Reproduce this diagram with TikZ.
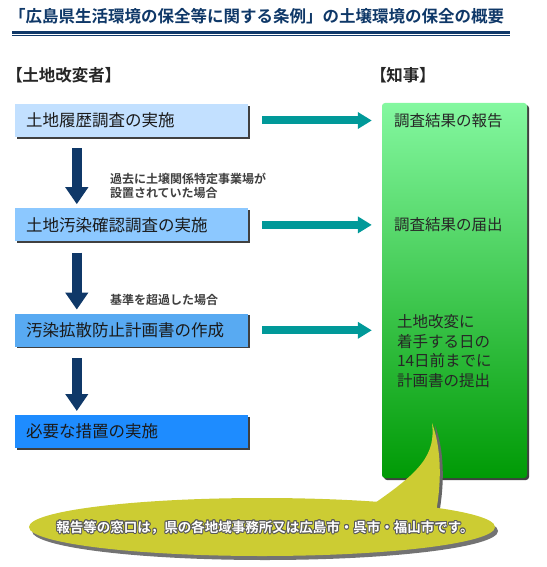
\documentclass[tikz,border=0pt]{standalone}
\usepackage{fontspec}
\setmainfont{Noto Sans CJK JP}[BoldFont={Noto Sans CJK JP Bold}]
\usepackage{tikz}
\usetikzlibrary{shapes,arrows,arrows.meta,positioning,calc,shadows}
\usepackage[copies]{contour}
\contourlength{0.9pt}
\contournumber{12}

\definecolor{navy}{HTML}{0F3868}
\definecolor{tealarr}{HTML}{009999}
\definecolor{blueA}{HTML}{C2E0FF}
\definecolor{blueB}{HTML}{8CC8FF}
\definecolor{blueC}{HTML}{58AAF2}
\definecolor{blueD}{HTML}{1E8CFF}
\definecolor{grtop}{HTML}{84F8A0}
\definecolor{grbot}{HTML}{009A05}
\definecolor{olive}{HTML}{CCCC33}
\definecolor{ink}{HTML}{1A1A1A}

\begin{document}
\begin{tikzpicture}[
    x=1pt, y=-1pt,
    node distance=71pt,
    stepbox/.style={rectangle, minimum width=233pt, minimum height=33pt, text width=211pt, inner xsep=11pt, align=left, font=\fontsize{16.5}{18}\selectfont, text=ink, drop shadow={shadow xshift=1.6pt, shadow yshift=-1.6pt, fill=black!75, opacity=1}},
    head/.style={font=\bfseries\addfontfeatures{RawFeature=+palt}\fontsize{16.5}{18}\selectfont, text=black!85, inner sep=0},
    note/.style={font=\bfseries\fontsize{12}{14.5}\selectfont, text=black!75, align=left, inner sep=0},
    reply/.style={font=\fontsize{15.5}{19.5}\selectfont, text=black!85, align=left, inner sep=0},
    down/.style={-{Triangle[width=22pt,length=17pt]}, line width=9.5pt, navy, shorten <=11pt, shorten >=4pt},
    arrow/.style={-{Triangle[width=16pt,length=14pt]}, line width=8pt, tealarr, shorten <=14pt, shorten >=10pt}
]
\useasboundingbox (0,0) rectangle (546,567);

% title
\node[anchor=west, inner sep=0, font=\bfseries\fontsize{16.5}{18}\selectfont, text=navy] (title) at (9,16) {「広島県生活環境の保全等に関する条例」の土壌環境の保全の概要};
\draw[navy, line width=2.2pt] (12,32.5) -- (510,32.5);
\draw[navy, line width=1.2pt] (12,35.6) -- (510,35.6);

% headers
\node[head, anchor=west] (hl) at (14,75) {【土地改変者】};
\node[head, anchor=west] (hr) at (378,75) {【知事】};

% steps
\node[stepbox, fill=blueA] (b1) at (131.5,120.5) {土地履歴調査の実施};
\node[stepbox, fill=blueB, below=71pt of b1] (b2) {土地汚染確認調査の実施};
\node[stepbox, fill=blueC, below=72pt of b2] (b3) {汚染拡散防止計画書の作成};
\node[stepbox, fill=blueD, below=68pt of b3] (b4) {必要な措置の実施};

\draw[down] ([xshift=62pt]b1.south west) -- ([xshift=62pt]b2.north west);
\draw[down] ([xshift=62pt]b2.south west) -- ([xshift=62pt]b3.north west);
\draw[down] ([xshift=62pt]b3.south west) -- ([xshift=62pt]b4.north west);

\node[note, anchor=south west] (n1) at ([xshift=95pt,yshift=9pt]b2.north west) {過去に土壌関係特定事業場が\\設置されていた場合};
\node[note, anchor=south west] (n2) at ([xshift=95pt,yshift=8pt]b3.north west) {基準を超過した場合};

% governor
\node[rounded corners=3pt, top color=grtop, bottom color=grbot, minimum width=145pt, minimum height=375pt, drop shadow={shadow xshift=2pt, shadow yshift=-2pt, fill=black!75, opacity=1}] (gov) at (454.5,290.5) {};

\draw[arrow] (b1.east) -- (b1.east -| gov.west);
\draw[arrow] (b2.east) -- (b2.east -| gov.west);
\draw[arrow] (b3.east) -- (b3.east -| gov.west);

\node[reply, anchor=west] (r1) at ($(gov.west |- b1.east)+(12,0)$) {調査結果の報告};
\node[reply, anchor=west] (r2) at ($(gov.west |- b2.east)+(12,0)$) {調査結果の届出};
\node[reply, anchor=west] (r3) at ($(gov.west |- b3.east)+(15,21)$) {土地改変に\\着手する日の\\14日前までに\\計画書の提出};

% callout
\foreach \d/\c in {3/black!60, 0/olive}
  \fill[\c, shift={(\d,0.7*\d)}] (372,505) .. controls (420,472) and (436,455) .. (432,423) .. controls (441,447) and (442,480) .. (436,512) -- cycle;
\node[ellipse, fill=olive, minimum width=466pt, minimum height=58pt, inner sep=0, drop shadow={shadow xshift=3pt, shadow yshift=-4pt, fill=black!55, opacity=1}] (win) at (262,527) {};
\node[font=\bfseries\fontsize{13.5}{15}\selectfont, text=white, inner sep=0] (wtext) at (265,528) {\contour{black!65}{報告等の窓口は，県の各地域事務所又は広島市・呉市・福山市です。}};
\end{tikzpicture}
\end{document}
